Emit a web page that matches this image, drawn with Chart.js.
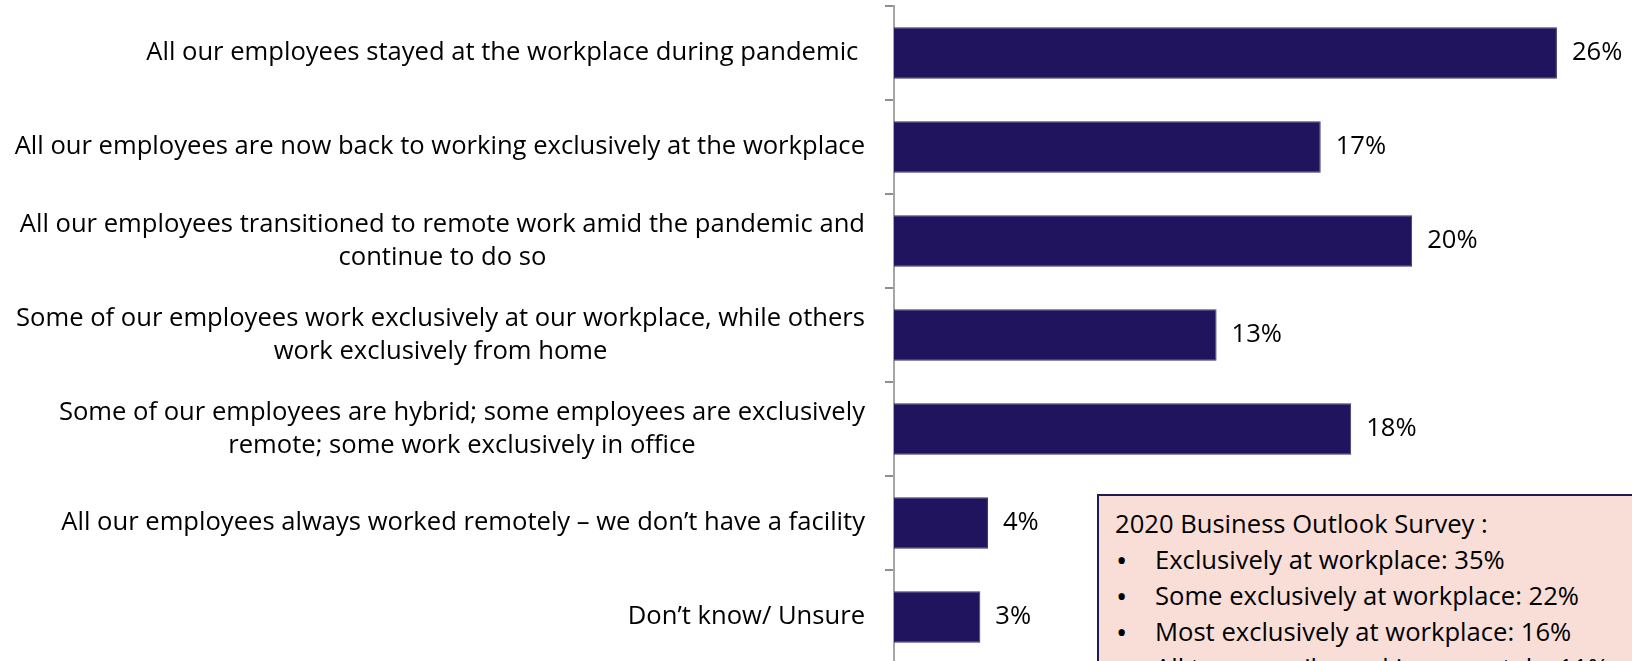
<!DOCTYPE html>
<html><head><meta charset="utf-8">
<script src="https://cdn.jsdelivr.net/npm/chart.js@4.4.0/dist/chart.umd.min.js"></script>
<style>
html,body{margin:0;padding:0;background:#fff;overflow:hidden;width:1632px;height:661px;position:relative;}
#wrap{position:absolute;left:0;top:0;width:1656px;height:664px;}
#note{position:absolute;left:1097px;top:494px;width:640px;height:320px;background:#F8DED6;border:2px solid #221A52;box-sizing:border-box;font-family:"Open Sans", sans-serif;font-size:25.6px;color:#000;padding:10px 0 0 16px;line-height:36px;}
#note .it{position:relative;padding-left:40px;white-space:nowrap;}
#note .it:before{content:"\2022";position:absolute;left:1px;font-size:30px;}
</style>
</head><body>
<div id="wrap"><canvas id="c" width="1656" height="664"></canvas></div>
<div id="note"></div>
<script>
const categories = [
  ["All our employees stayed at the workplace during pandemic "],
  ["All our employees are now back to working exclusively at the workplace"],
  ["All our employees transitioned to remote work amid the pandemic and", "continue to do so"],
  ["Some of our employees work exclusively at our workplace, while others", "work exclusively from home"],
  ["Some of our employees are hybrid; some employees are exclusively", "remote; some work exclusively in office"],
  ["All our employees always worked remotely \u2013 we don\u2019t have a facility"],
  ["Don\u2019t know/ Unsure"]
];
const values = [26.1, 16.8, 20.4, 12.7, 18.0, 3.7, 3.4];
const valueLabels = ["26%", "17%", "20%", "13%", "18%", "4%", "3%"];
const xMax = 30;
const noteTitle = "2020 Business Outlook Survey :";
const noteItems = [
  "Exclusively at workplace: 35%",
  "Some exclusively at workplace: 22%",
  "Most exclusively at workplace: 16%",
  "All temporarily working remotely: 11%"
];

const FONT = '"Open Sans"';
const FS = 25.6;

const note = document.getElementById('note');
const t = document.createElement('div'); t.textContent = noteTitle; note.appendChild(t);
noteItems.forEach(s => { const d = document.createElement('div'); d.className = 'it'; d.textContent = s; note.appendChild(d); });

const labelPlugin = {
  id: 'labels',
  afterDraw(chart) {
    const ctx = chart.ctx;
    const ys = chart.scales.y;
    const left = chart.chartArea.left;
    ctx.save();
    ctx.font = FS + 'px ' + FONT;
    ctx.fillStyle = '#000';
    ctx.textBaseline = 'middle';
    ctx.textAlign = 'center';
    const lh = 33;
    categories.forEach((lines, i) => {
      const y = ys.getPixelForValue(i);
      const maxW = Math.max(...lines.map(l => ctx.measureText(l).width));
      const cx = left - 29 - maxW / 2;
      lines.forEach((l, k) => {
        ctx.fillText(l, cx, y + (k - (lines.length - 1) / 2) * lh);
      });
    });
    const meta = chart.getDatasetMeta(0);
    ctx.textAlign = 'left';
    meta.data.forEach((el, i) => {
      ctx.fillText(valueLabels[i], el.x + 15, el.y);
    });
    ctx.restore();
  }
};

function build() {
  new Chart(document.getElementById('c'), {
    type: 'bar',
    data: {
      labels: categories.map(c => c.join(' ')),
      datasets: [{
        data: values,
        backgroundColor: '#21145F',
        borderColor: '#3B3566',
        borderWidth: 1,
        barPercentage: 0.55,
        categoryPercentage: 1.0
      }]
    },
    options: {
      indexAxis: 'y',
      responsive: false,
      devicePixelRatio: 1,
      animation: false,
      layout: { padding: { top: 6, bottom: 0, left: 0, right: 0 } },
      plugins: { legend: { display: false }, tooltip: { enabled: false } },
      scales: {
        x: { display: false, min: 0, max: xMax },
        y: {
          type: 'category',
          offset: true,
          afterFit(scale) { scale.width = 894; },
          ticks: { display: false },
          grid: { display: true, offset: true, drawOnChartArea: false, drawTicks: true, tickLength: 9, color: '#8E8E8E', lineWidth: 2 },
          border: { display: true, color: '#A6A6A6', width: 2 }
        }
      }
    },
    plugins: [labelPlugin]
  });
}
document.fonts.load(FS + 'px ' + FONT).then(build, build);
</script>
</body></html>
